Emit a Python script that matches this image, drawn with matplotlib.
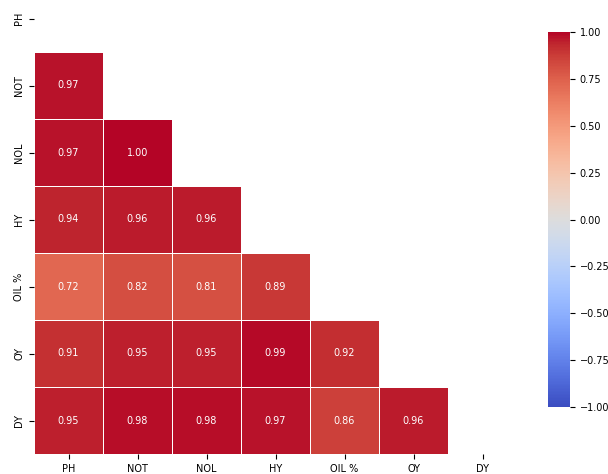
import matplotlib
matplotlib.use('Agg')
import matplotlib.pyplot as plt
import numpy as np
import seaborn as sns

labels = ['PH', 'NOT', 'NOL', 'HY', 'OIL %', 'OY', 'DY']

# lower triangle rows (below diagonal)
row_not = [0.97]
row_nol = [0.97, 1.00]
row_hy = [0.94, 0.96, 0.96]
row_oil = [0.72, 0.82, 0.81, 0.89]
row_oy = [0.91, 0.95, 0.95, 0.99, 0.92]
row_dy = [0.95, 0.98, 0.98, 0.97, 0.86, 0.96]

rows = [row_not, row_nol, row_hy, row_oil, row_oy, row_dy]
n = len(labels)
corr = np.eye(n)
for i, r in enumerate(rows, start=1):
    for j, v in enumerate(r):
        corr[i, j] = v
        corr[j, i] = v

mask = np.triu(np.ones_like(corr, dtype=bool))

fig = plt.figure(figsize=(6.08, 4.74), dpi=100)
ax = fig.add_axes([34 / 608, 20 / 474, 483 / 608, 469 / 474])
cax = fig.add_axes([548 / 608, 67 / 474, 22 / 608, 375 / 474])

sns.heatmap(corr, mask=mask, annot=True, fmt='.2f', cmap='coolwarm',
            vmin=-1, vmax=1, linewidths=0.5, linecolor='white',
            xticklabels=labels, yticklabels=labels, ax=ax, cbar_ax=cax,
            annot_kws={'fontsize': 7})

ax.tick_params(labelsize=7)
plt.setp(ax.get_yticklabels(), rotation=90, va='center')
plt.setp(ax.get_xticklabels(), rotation=0)
cax.tick_params(labelsize=7)
cax.set_yticks([-1, -0.75, -0.5, -0.25, 0, 0.25, 0.5, 0.75, 1])
cax.set_yticklabels(['−1.00', '−0.75', '−0.50', '−0.25', '0.00', '0.25', '0.50', '0.75', '1.00'])

fig.savefig('out.png', dpi=100)
